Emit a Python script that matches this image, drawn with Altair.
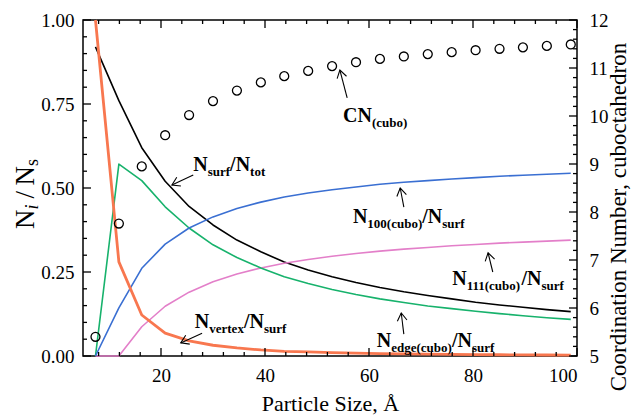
import math
import altair as alt
import pandas as pd

# ---------------- data ----------------
size_A = [7.4, 11.9, 16.3, 20.8, 25.4, 30.0, 34.6, 39.2, 43.7, 48.3, 52.9,
          57.5, 62.1, 66.7, 71.3, 75.9, 80.5, 85.1, 89.6, 94.2, 98.8]
cn_cubo = [5.40, 7.76, 8.95, 9.60, 10.02, 10.31, 10.53, 10.70, 10.83, 10.94, 11.04,
           11.12, 11.19, 11.24, 11.29, 11.33, 11.37, 11.40, 11.43, 11.46, 11.49]
surf_tot = [0.92, 0.76, 0.62, 0.52, 0.445, 0.39, 0.345, 0.31, 0.28, 0.256, 0.236,
            0.219, 0.204, 0.191, 0.180, 0.170, 0.160, 0.152, 0.145, 0.138, 0.132]
vertex_surf = [1.0, 0.28, 0.122, 0.068, 0.045, 0.032, 0.024, 0.018, 0.014, 0.012, 0.010,
               0.0083, 0.0071, 0.0061, 0.0053, 0.0047, 0.0041, 0.0037, 0.0033, 0.0030, 0.0027]
edge_surf = [0.0, 0.571, 0.522, 0.444, 0.381, 0.331, 0.293, 0.262, 0.236, 0.216, 0.198,
             0.183, 0.170, 0.159, 0.149, 0.141, 0.133, 0.126, 0.120, 0.114, 0.109]
f100_surf = [0.0, 0.143, 0.261, 0.333, 0.381, 0.414, 0.439, 0.458, 0.473, 0.485, 0.495,
             0.503, 0.511, 0.517, 0.522, 0.527, 0.531, 0.535, 0.538, 0.541, 0.544]
f111_surf = [0.0, 0.0, 0.087, 0.148, 0.190, 0.221, 0.244, 0.262, 0.276, 0.287, 0.297,
             0.305, 0.312, 0.318, 0.323, 0.328, 0.332, 0.336, 0.339, 0.342, 0.345]

series_names = ["surf_tot", "f111", "edge", "f100", "vertex"]
series_colors = ["#000000", "#E37FC9", "#17B26C", "#3A6FD2", "#F8774F"]
series_widths = [1.6, 1.6, 1.6, 1.6, 2.8]
series_values = [surf_tot, f111_surf, edge_surf, f100_surf, vertex_surf]

x_major = [20, 40, 60, 80, 100]
x_minor = [8, 12, 16, 24, 28, 32, 36, 44, 48, 52, 56, 64, 68, 72, 76, 84, 88, 92, 96]
y_major = [0.0, 0.25, 0.5, 0.75, 1.0]
y_minor = [0.05, 0.10, 0.15, 0.20, 0.30, 0.35, 0.40, 0.45, 0.55, 0.60, 0.65, 0.70,
           0.80, 0.85, 0.90, 0.95]
cn_major = [5, 6, 7, 8, 9, 10, 11, 12]
cn_minor = [round(5 + 0.2 * i, 1) for i in range(36) if i % 5 != 0]

X_DOM = [5, 100]
Y_DOM = [0, 1]
CN_DOM = [5, 12]

# annotations: label anchor (left/baseline, data units), arrow tail -> tip
labels = [
    dict(pieces=[("N", 0), ("surf", 1), ("/", 0), ("N", 0), ("tot", 1)],
         x=26.2, y=0.551, arrow=(26.2, 0.539, 22.1, 0.509)),
    dict(pieces=[("N", 0), ("vertex", 1), ("/", 0), ("N", 0), ("surf", 1)],
         x=26.5, y=0.083, arrow=(27.9, 0.068, 23.8, 0.039)),
    dict(pieces=[("N", 0), ("edge(cubo)", 1), ("/", 0), ("N", 0), ("surf", 1)],
         x=61.5, y=0.027, arrow=(66.7, 0.065, 66.2, 0.128)),
    dict(pieces=[("N", 0), ("111(cubo)", 1), ("/", 0), ("N", 0), ("surf", 1)],
         x=76.0, y=0.211, arrow=(83.8, 0.250, 82.9, 0.307)),
    dict(pieces=[("N", 0), ("100(cubo)", 1), ("/", 0), ("N", 0), ("surf", 1)],
         x=56.9, y=0.396, arrow=(66.7, 0.443, 66.0, 0.500)),
    dict(pieces=[("CN", 0), ("(cubo)", 1)],
         x=55.0, y=0.696, arrow=(55.8, 0.768, 54.4, 0.851)),
]

# ---------------- styling ----------------
W, H = 494, 336
FONT = "Liberation Serif"
MAIN_FS, SUB_FS, SUB_DY = 20, 13, 5
BOLD_W = {"N": 722, "C": 722, "s": 389, "u": 556, "r": 444, "f": 333, "/": 278,
          "t": 333, "o": 500, "v": 500, "e": 444, "x": 500, "d": 556, "g": 500,
          "(": 333, ")": 333, "c": 444, "b": 556, "1": 500, "0": 500}


def text_width(s, fs):
    return sum(BOLD_W.get(ch, 500) for ch in s) * fs / 1000.0


xs = alt.Scale(domain=X_DOM, nice=False, zero=False)
ys = alt.Scale(domain=Y_DOM, nice=False, zero=False)
cs = alt.Scale(domain=CN_DOM, nice=False, zero=False)

x_axis = alt.Axis(values=x_major, ticks=False, domain=False, grid=False,
                  labelFont=FONT, labelFontSize=19, labelColor="black", labelPadding=10,
                  title="Particle Size, Å", titleFont=FONT, titleFontSize=22,
                  titleFontWeight="normal", titleColor="black", titlePadding=8)
y_axis = alt.Axis(values=y_major, format=".2f", ticks=False, domain=False, grid=False,
                  labelFont=FONT, labelFontSize=19, labelColor="black", labelPadding=9,
                  title=None)
cn_axis = alt.Axis(orient="right", values=cn_major, ticks=False, domain=False, grid=False,
                   labelFont=FONT, labelFontSize=19, labelColor="black", labelPadding=12,
                   title=None)

# lines
rows = []
for name, vals, w in zip(series_names, series_values, series_widths):
    for x, v in zip(size_A, vals):
        rows.append({"series": name, "x": x, "v": v, "w": w})
line_df = pd.DataFrame(rows)

lines = alt.Chart(line_df).mark_line(strokeJoin="round").encode(
    x=alt.X("x:Q", scale=xs, axis=x_axis),
    y=alt.Y("v:Q", scale=ys, axis=y_axis),
    color=alt.Color("series:N", scale=alt.Scale(domain=series_names, range=series_colors),
                    legend=None),
    strokeWidth=alt.StrokeWidth("w:Q", scale=None),
    order=alt.Order("x:Q"),
)


# inward ticks
def xticks(vals, length):
    d = pd.DataFrame({"t": vals})
    b = alt.Chart(d).mark_rule(color="black", strokeWidth=1.3).encode(
        x=alt.X("t:Q", scale=xs, axis=x_axis), y=alt.value(H), y2=alt.value(H - length))
    t = alt.Chart(d).mark_rule(color="black", strokeWidth=1.3).encode(
        x=alt.X("t:Q", scale=xs, axis=x_axis), y=alt.value(0), y2=alt.value(length))
    return [b, t]


def yticks(vals, length):
    d = pd.DataFrame({"t": vals})
    return alt.Chart(d).mark_rule(color="black", strokeWidth=1.3).encode(
        y=alt.Y("t:Q", scale=ys, axis=y_axis), x=alt.value(0), x2=alt.value(length))


def cnticks(vals, length):
    d = pd.DataFrame({"t": vals})
    return alt.Chart(d).mark_rule(color="black", strokeWidth=1.3).encode(
        y=alt.Y("t:Q", scale=cs, axis=cn_axis), x=alt.value(W), x2=alt.value(W - length))


# annotation texts
trows = []
arows = []
for lab in labels:
    cum = 0.0
    for txt, sub in lab["pieces"]:
        fs = SUB_FS if sub else MAIN_FS
        trows.append({"text": txt,
                      "x": lab["x"] + cum * (X_DOM[1] - X_DOM[0]) / W,
                      "y": lab["y"] - (SUB_DY if sub else 0) / H * (Y_DOM[1] - Y_DOM[0]),
                      "fs": fs})
        cum += text_width(txt, fs)
    x1, y1, x2, y2 = lab["arrow"]
    dxp = (x2 - x1) * W / (X_DOM[1] - X_DOM[0])
    dyp = -(y2 - y1) * H / (Y_DOM[1] - Y_DOM[0])
    ang = math.degrees(math.atan2(dxp, -dyp)) % 360
    arows.append({"x1": x1, "y1": y1, "x2": x2, "y2": y2, "ang": ang})
text_df = pd.DataFrame(trows)
arrow_df = pd.DataFrame(arows)

texts = alt.Chart(text_df).mark_text(font=FONT, fontWeight="bold", align="left",
                                     baseline="alphabetic", color="black").encode(
    x=alt.X("x:Q", scale=xs, axis=x_axis),
    y=alt.Y("y:Q", scale=ys, axis=y_axis),
    text="text:N",
    size=alt.Size("fs:Q", scale=None),
)
arrow_lines = alt.Chart(arrow_df).mark_rule(color="black", strokeWidth=1.1).encode(
    x=alt.X("x1:Q", scale=xs, axis=x_axis), x2="x2:Q",
    y=alt.Y("y1:Q", scale=ys, axis=y_axis), y2="y2:Q",
)
arrow_heads = alt.Chart(arrow_df).mark_point(
    shape="M -0.6 0.95 L 0 0 L 0.6 0.95", filled=False, color="black",
    strokeWidth=1.1, size=260, opacity=1).encode(
    x=alt.X("x2:Q", scale=xs, axis=x_axis),
    y=alt.Y("y2:Q", scale=ys, axis=y_axis),
    angle=alt.Angle("ang:Q", scale=None),
)

# left axis title, N_i / N_s (rotated, reading upward)
dummy = alt.Data(values=[{}])
TX, TY, TFS, TSFS = -57, 209, 27, 18
title_pieces = [("N", TFS, "normal", 0, 19.5), ("i", TSFS, "italic", 7, 11.0),
                ("/", TFS, "normal", 0, 13.0), ("N", TFS, "normal", 0, 19.5),
                ("s", TSFS, "normal", 7, 7.0)]
title_layers = []
cum = 0.0
for txt, fs, style, sh, adv in title_pieces:
    title_layers.append(
        alt.Chart(dummy).mark_text(font=FONT, fontSize=fs, fontStyle=style, angle=270,
                                   align="left", baseline="middle", color="black",
                                   dx=cum, dy=sh).encode(
            x=alt.value(TX), y=alt.value(TY), text=alt.value(txt)))
    cum += adv

right_title = alt.Chart(dummy).mark_text(
    font=FONT, fontSize=23, angle=270, align="center", baseline="middle",
    color="black").encode(x=alt.value(W + 42), y=alt.value(197),
                          text=alt.value("Coordination Number, cuboctahedron"))

# CN circles on the right axis
cn_df = pd.DataFrame({"x": size_A, "cn": cn_cubo})
circles = alt.Chart(cn_df).mark_point(shape="circle", filled=False, color="black",
                                      size=80, strokeWidth=1.3, opacity=1).encode(
    x=alt.X("x:Q", scale=xs, axis=x_axis),
    y=alt.Y("cn:Q", scale=cs, axis=cn_axis),
)

left = alt.layer(
    lines,
    *xticks(x_major, 8), *xticks(x_minor, 4),
    yticks(y_major, 8), yticks(y_minor, 4),
    arrow_lines, arrow_heads, texts,
    *title_layers,
)
right = alt.layer(circles, cnticks(cn_major, 8), cnticks(cn_minor, 4), right_title)

chart = alt.layer(left, right).resolve_scale(y="independent").properties(
    width=W, height=H,
    autosize=alt.AutoSizeParams(type="none"),
    padding={"left": 83, "top": 20, "right": 54, "bottom": 62},
    background="white",
).configure_view(stroke="black", strokeWidth=1.5).configure_axis(labelFont=FONT)

chart.save("out.html", embed_options={"renderer": "svg", "actions": False})
